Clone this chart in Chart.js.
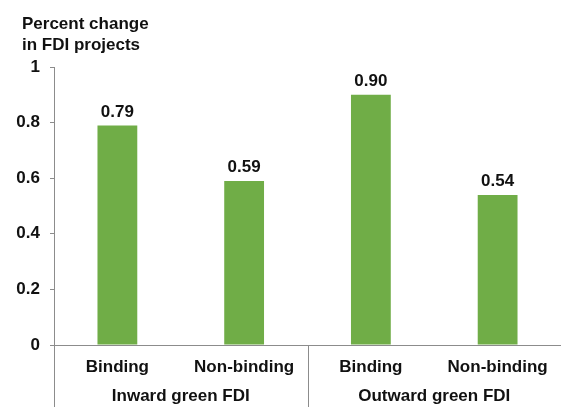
<!DOCTYPE html>
<html>
<head>
<meta charset="utf-8">
<script src="https://cdn.jsdelivr.net/npm/chart.js@4"></script>
<style>
  html, body { margin: 0; padding: 0; background: #fff; }
  #wrap { width: 561px; height: 416px; position: relative; }
</style>
</head>
<body>
<div id="wrap"><canvas id="chart"></canvas></div>
<script>
// green FDI projects: percent change by commitment type
const categories = ['Binding', 'Non-binding', 'Binding', 'Non-binding'];
const groups = ['Inward green FDI', 'Outward green FDI'];
const percentChange = [0.79, 0.59, 0.90, 0.54];
const valueLabels = ['0.79', '0.59', '0.90', '0.54'];
const titleLines = ['Percent change', 'in FDI projects'];

const FONT = '"Liberation Sans", Arial, sans-serif';
const AXIS_GRAY = '#8c8c8c';

// title, value labels, group separators and group names
const extras = {
  id: 'extras',
  afterDraw(chart) {
    const ctx = chart.ctx;
    const x = chart.scales.x;
    ctx.save();
    ctx.fillStyle = '#111';
    ctx.font = 'bold 17px ' + FONT;

    // title
    ctx.textAlign = 'left';
    ctx.textBaseline = 'middle';
    titleLines.forEach((t, i) => ctx.fillText(t, 22, 24 + i * 21));

    // value labels over bars
    ctx.textAlign = 'center';
    ctx.textBaseline = 'bottom';
    chart.getDatasetMeta(0).data.forEach((bar, i) => {
      ctx.fillText(valueLabels[i], bar.x, bar.y - 5);
    });

    // separators between the two groups
    const mid = (x.getPixelForValue(1) + x.getPixelForValue(2)) / 2;
    ctx.strokeStyle = AXIS_GRAY;
    ctx.lineWidth = 1;
    [x.left, mid, x.right].forEach(px => {
      const p = Math.round(px) + 0.5;
      ctx.beginPath();
      ctx.moveTo(p, x.top);
      ctx.lineTo(p, x.top + 62);
      ctx.stroke();
    });

    // group names
    ctx.textBaseline = 'middle';
    groups.forEach((g, i) => {
      const c = (x.getPixelForValue(i * 2) + x.getPixelForValue(i * 2 + 1)) / 2;
      ctx.fillText(g, c, x.top + 51);
    });
    ctx.restore();
  }
};

new Chart(document.getElementById('chart'), {
  type: 'bar',
  data: {
    labels: categories,
    datasets: [{
      data: percentChange,
      backgroundColor: '#70ad47',
      barPercentage: 0.314,
      categoryPercentage: 1
    }]
  },
  options: {
    responsive: true,
    maintainAspectRatio: false,
    animation: false,
    layout: { padding: { left: 0, right: -2, top: 67, bottom: 0 } },
    plugins: {
      legend: { display: false },
      tooltip: { enabled: false },
      title: { display: false }
    },
    scales: {
      x: {
        grid: { display: false },
        border: { color: AXIS_GRAY, width: 1 },
        ticks: {
          color: '#111',
          padding: 4,
          font: { family: FONT, size: 17, weight: 'bold' }
        },
        afterFit(scale) { scale.height = 71; }
      },
      y: {
        min: 0,
        max: 1,
        ticks: {
          stepSize: 0.2,
          color: '#111',
          padding: 10,
          font: { family: FONT, size: 17, weight: 'bold' },
          callback: v => String(Math.round(v * 10) / 10)
        },
        grid: {
          drawOnChartArea: false,
          drawTicks: true,
          tickLength: 4,
          color: AXIS_GRAY
        },
        border: { color: AXIS_GRAY, width: 1 },
        afterFit(scale) { scale.width = 54; }
      }
    }
  },
  plugins: [extras]
});
</script>
</body>
</html>
